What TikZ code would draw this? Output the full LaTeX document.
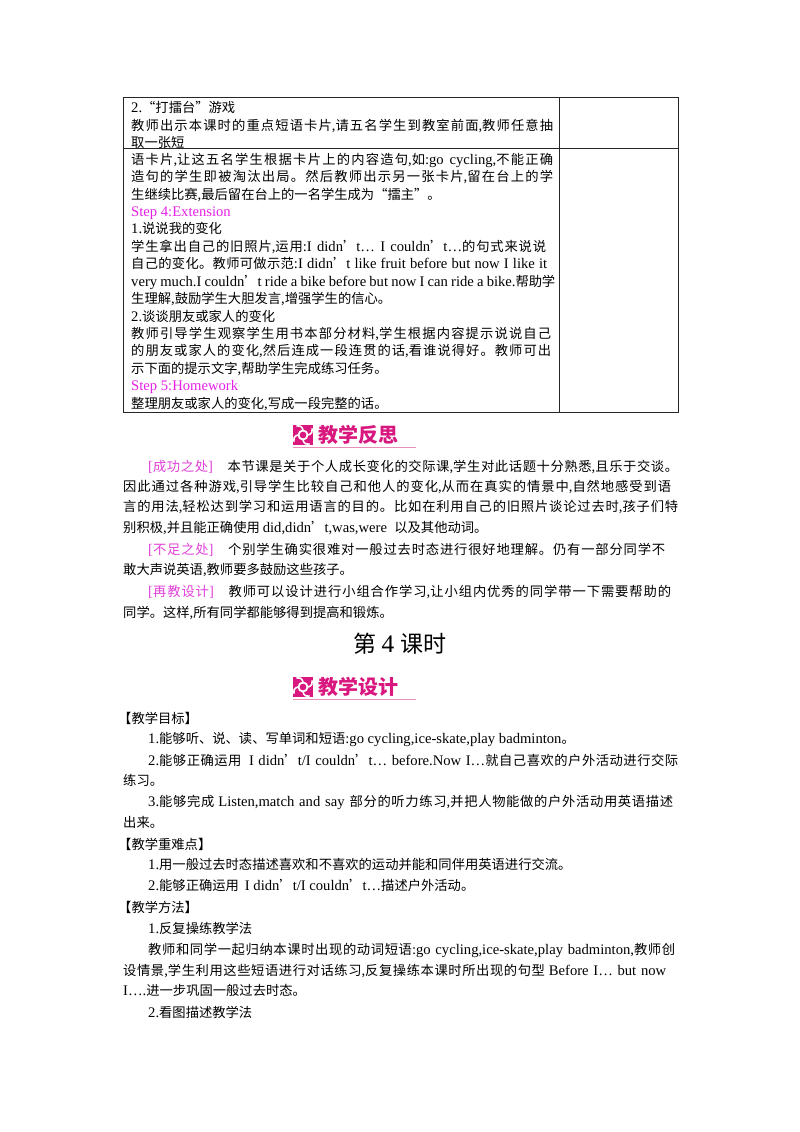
\documentclass[tikz,border=0pt]{standalone}
\usepackage{fontspec}
\setmainfont[Scale=1.1]{Liberation Serif}
\newfontfamily\cjk{Noto Sans CJK SC}
\newcommand\lat{\rmfamily}
\XeTeXinterchartokenstate=1
\newXeTeXintercharclass\cjkc
\count255="4E00
\loop\XeTeXcharclass\count255=\cjkc\ifnum\count255<"9FFF\advance\count255 by 1\repeat
\count255="3000
\loop\XeTeXcharclass\count255=\cjkc\ifnum\count255<"303F\advance\count255 by 1\repeat
\count255="FF00
\loop\XeTeXcharclass\count255=\cjkc\ifnum\count255<"FFEF\advance\count255 by 1\repeat
\XeTeXcharclass"2018=\cjkc \XeTeXcharclass"2019=\cjkc
\XeTeXcharclass"201C=\cjkc \XeTeXcharclass"201D=\cjkc
\XeTeXinterchartoks 0 \cjkc = {\cjk}
\XeTeXinterchartoks 4095 \cjkc = {\cjk}
\XeTeXinterchartoks \cjkc 0 = {\lat}
\XeTeXinterchartoks 4095 0 = {\lat}
\XeTeXinterchartoks \cjkc \cjkc = {\hskip0pt plus 1pt minus 0.4pt}
\definecolor{mag}{HTML}{E620E6}
\definecolor{pk}{HTML}{E040D8}
\definecolor{hd}{HTML}{D8187E}
\definecolor{hdl}{HTML}{E890B8}
\newcommand\pink[1]{\textcolor{pk}{#1}}
\newcommand\plainline[4]{\node[txt] (#1) at (#2,-#3-5) {#4};}
\newcommand\justline[5]{\node[txt] (#1) at (#2,-#3-5) {\hbox to #4pt{#5}};}
\begin{document}
\begin{tikzpicture}[x=1pt,y=1pt,
  txt/.style={anchor=base west,inner sep=0pt,font=\fontsize{13.3}{16}\selectfont},
  rule/.style={line width=0.9pt,draw=black!85}]
\useasboundingbox (0,0) rectangle (800,-1132);
% table
\draw[rule] (123,-97) rectangle (678,-412);
\draw[rule] (123,-148) -- (678,-148);
\draw[rule] (559,-97) -- (559,-412);
\plainline{a1}{131}{107}{2.“打擂台”游戏}
\justline{a2}{131}{125}{422}{教师出示本课时的重点短语卡片,请五名学生到教室前面,教师任意抽}
\plainline{a3}{131}{142}{取一张短}
\justline{b1}{131}{159}{422}{语卡片,让这五名学生根据卡片上的内容造句,如:go cycling,不能正确}
\justline{b2}{131}{176}{422}{造句的学生即被淘汰出局。然后教师出示另一张卡片,留在台上的学}
\plainline{b3}{131}{194}{生继续比赛,最后留在台上的一名学生成为“擂主”。}
\plainline{b4}{131}{211}{\textcolor{mag}{Step 4:Extension}}
\plainline{b5}{131}{228}{1.说说我的变化}
\justline{b6}{131}{246}{415}{学生拿出自己的旧照片,运用:I didn’t… I couldn’t…的句式来说说}
\justline{b7}{131}{263}{416}{自己的变化。教师可做示范:I didn’t like fruit before but now I like it}
\justline{b8}{131}{281}{424}{very much.I couldn’t ride a bike before but now I can ride a bike.帮助学}
\plainline{b9}{131}{298}{生理解,鼓励学生大胆发言,增强学生的信心。}
\plainline{b10}{131}{316}{2.谈谈朋友或家人的变化}
\justline{b11}{131}{333}{420}{教师引导学生观察学生用书本部分材料,学生根据内容提示说说自己}
\justline{b12}{131}{350}{420}{的朋友或家人的变化,然后连成一段连贯的话,看谁说得好。教师可出}
\plainline{b13}{131}{368}{示下面的提示文字,帮助学生完成练习任务。}
\plainline{b14}{131}{385}{\textcolor{mag}{Step 5:Homework}}
\plainline{b15}{131}{403}{整理朋友或家人的变化,写成一段完整的话。}
% headers
\foreach \hy/\htxt/\nm in {435/教学反思/h1, 687/教学设计/h2}{
  \fill[hd] (293,-\hy+10) rectangle (313,-\hy-10);
  \draw[white,line width=1.8pt] (303,-\hy) circle (4.5);
  \foreach \a in {0,90,180,270}{\draw[white,line width=1.6pt] (303,-\hy) ++(\a:4.5) arc[start angle=\a-90,end angle=\a+20,radius=5];}
  \fill[hd] (303,-\hy) circle (1.6);
  \node[anchor=west,inner sep=0pt,text=hd,font=\fontsize{20}{20}\selectfont\bfseries] (\nm) at (318,-\hy) {\htxt};
  \draw[hdl,line width=0.8pt] (293,-\hy-12) -- (416,-\hy-12);
}
% reflection
\justline{r1}{148}{466}{530}{\pink{[成功之处]}\quad 本节课是关于个人成长变化的交际课,学生对此话题十分熟悉,且乐于交谈。}
\justline{r2}{123}{486}{548}{因此通过各种游戏,引导学生比较自己和他人的变化,从而在真实的情景中,自然地感受到语}
\justline{r3}{123}{506}{555}{言的用法,轻松达到学习和运用语言的目的。比如在利用自己的旧照片谈论过去时,孩子们特}
\plainline{r4}{123}{527}{别积极,并且能正确使用 did,didn’t,was,were\ \ 以及其他动词。}
\justline{r5}{148}{549}{517}{\pink{[不足之处]}\quad 个别学生确实很难对一般过去时态进行很好地理解。仍有一部分同学不}
\plainline{r6}{123}{569}{敢大声说英语,教师要多鼓励这些孩子。}
\justline{r7}{148}{591}{523}{\pink{[再教设计]}\quad 教师可以设计进行小组合作学习,让小组内优秀的同学带一下需要帮助的}
\plainline{r8}{123}{612}{同学。这样,所有同学都能够得到提高和锻炼。}
\node[inner sep=0pt,font=\fontsize{23}{23}\selectfont] (title) at (400,-644) {第 4 课时};
% design
\plainline{d1}{118}{718}{【教学目标】}
\plainline{d2}{148}{738}{1.能够听、说、读、写单词和短语:go cycling,ice-skate,play badminton。}
\justline{d3}{148}{760}{530}{2.能够正确运用 \ I didn’t/I couldn’t… before.Now I…就自己喜欢的户外活动进行交际}
\plainline{d4}{123}{780}{练习。}
\justline{d5}{148}{801}{525}{3.能够完成 Listen,match and say 部分的听力练习,并把人物能做的户外活动用英语描述}
\plainline{d6}{123}{822}{出来。}
\plainline{d7}{118}{844}{【教学重难点】}
\plainline{d8}{148}{864}{1.用一般过去时态描述喜欢和不喜欢的运动并能和同伴用英语进行交流。}
\plainline{d9}{148}{885}{2.能够正确运用 \ I didn’t/I couldn’t…描述户外活动。}
\plainline{d10}{118}{907}{【教学方法】}
\plainline{d11}{148}{928}{1.反复操练教学法}
\justline{d12}{148}{949}{527}{教师和同学一起归纳本课时出现的动词短语:go cycling,ice-skate,play badminton,教师创}
\justline{d13}{123}{970}{543}{设情景,学生利用这些短语进行对话练习,反复操练本课时所出现的句型 Before I… but now}
\plainline{d14}{123}{990}{I….进一步巩固一般过去时态。}
\plainline{d15}{148}{1012}{2.看图描述教学法}
\end{tikzpicture}
\end{document}
